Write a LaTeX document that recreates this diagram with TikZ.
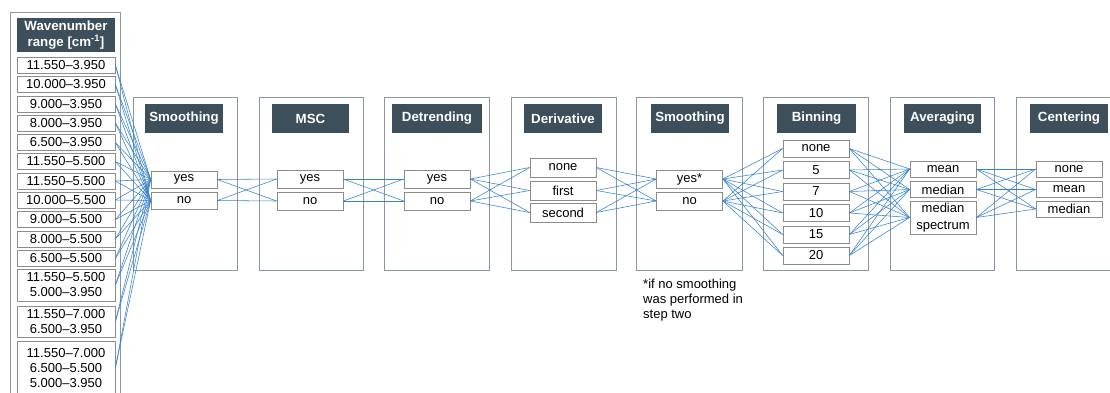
\documentclass[tikz,border=0pt]{standalone}
\usepackage{fontspec}
\setmainfont{Liberation Sans}
\definecolor{hdr}{HTML}{3D4F5B}
\definecolor{pnl}{HTML}{8A99A3}
\definecolor{obd}{HTML}{8C8C8C}
\definecolor{lnk}{RGB}{55,130,205}
\begin{document}
\begin{tikzpicture}[x=1pt,y=-1pt,
  panel/.style={draw=pnl,line width=0.8pt},
  hdrbox/.style={fill=hdr,text=white,font=\fontsize{13.3}{15}\selectfont\bfseries,inner sep=0pt,minimum height=29pt,align=center},
  opt/.style={draw=obd,fill=white,line width=0.7pt,font=\fontsize{13}{15}\selectfont,inner sep=0pt,minimum width=66pt,align=center},
  rng/.style={draw=obd,fill=white,line width=0.7pt,font=\fontsize{13}{15}\selectfont,inner sep=0pt,minimum width=98pt,align=center},
  conn/.style={draw=lnk,line width=0.55pt}]
\clip (0,0) rectangle (1110,392);
\useasboundingbox (0,0) rectangle (1110,392);
\fill[white] (0,0) rectangle (1110,392);
% left column
\draw[panel] (10,12) rectangle (120,400);
\node[hdrbox,minimum width=98pt,minimum height=34pt] (wh) at (66,35) {Wavenumber\\[1pt]range [cm\textsuperscript{-1}]};
\node[rng,minimum height=16pt] (r1) at (66,65) {11.550–3.950};
\node[rng,minimum height=16pt] (r2) at (66,84.5) {10.000–3.950};
\node[rng,minimum height=16pt] (r3) at (66,104) {9.000–3.950};
\node[rng,minimum height=16pt] (r4) at (66,123) {8.000–3.950};
\node[rng,minimum height=16pt] (r5) at (66,142.5) {6.500–3.950};
\node[rng,minimum height=16pt] (r6) at (66,161.5) {11.550–5.500};
\node[rng,minimum height=16pt] (r7) at (66,181) {11.550–5.500};
\node[rng,minimum height=16pt] (r8) at (66,200) {10.000–5.500};
\node[rng,minimum height=16pt] (r9) at (66,219.5) {9.000–5.500};
\node[rng,minimum height=16pt] (r10) at (66,239) {8.000–5.500};
\node[rng,minimum height=16pt] (r11) at (66,258.5) {6.500–5.500};
\node[rng,minimum height=32pt] (r12) at (66,285) {11.550–5.500\\5.000–3.950};
\node[rng,minimum height=31pt] (r13) at (66,321.5) {11.550–7.000\\6.500–3.950};
\node[rng,minimum height=54pt] (r14) at (66,368) {11.550–7.000\\6.500–5.500\\5.000–3.950};
% panels
\draw[panel] (133,97) rectangle (237,270);
\draw[panel] (259,97) rectangle (363,270);
\draw[panel] (384,97) rectangle (489,270);
\draw[panel] (511,97) rectangle (616,270);
\draw[panel] (636,97) rectangle (742,270);
\draw[panel] (763,97) rectangle (868,270);
\draw[panel] (890,97) rectangle (994,270);
\draw[panel] (1016,97) rectangle (1130,270);
% headers
\node[hdrbox,minimum width=78pt] (h1) at (184,118.5) {Smoothing};
\node[hdrbox,minimum width=77pt] (h2) at (310.5,118.5) {MSC};
\node[hdrbox,minimum width=90pt] (h3) at (437,118.5) {Detrending};
\node[hdrbox,minimum width=78pt] (h4) at (563,118.5) {Derivative};
\node[hdrbox,minimum width=78pt] (h5) at (690,118.5) {Smoothing};
\node[hdrbox,minimum width=79pt] (h6) at (816.5,118.5) {Binning};
\node[hdrbox,minimum width=77pt] (h7) at (942.5,118.5) {Averaging};
\node[hdrbox,minimum width=78pt] (h8) at (1069,118.5) {Centering};
% options
\node[opt,minimum height=17pt] (s1y) at (184,179.5) {yes};
\node[opt,minimum height=17pt] (s1n) at (184,200.5) {no};
\node[opt,minimum height=18pt] (my) at (310,179) {yes};
\node[opt,minimum height=18pt] (mn) at (310,201) {no};
\node[opt,minimum height=18pt] (dy) at (437,179) {yes};
\node[opt,minimum height=18pt] (dn) at (437,201) {no};
\node[opt,minimum height=19pt] (v1) at (563,167.5) {none};
\node[opt,minimum height=19pt] (v2) at (563,190.5) {first};
\node[opt,minimum height=19pt] (v3) at (563,212.5) {second};
\node[opt,minimum height=18pt] (s2y) at (689.5,179) {yes*};
\node[opt,minimum height=18pt] (s2n) at (689.5,201) {no};
\node[opt,minimum height=17pt] (b1) at (816,148.5) {none};
\node[opt,minimum height=17pt] (b2) at (816,170) {5};
\node[opt,minimum height=17pt] (b3) at (816,191.5) {7};
\node[opt,minimum height=17pt] (b4) at (816,213) {10};
\node[opt,minimum height=17pt] (b5) at (816,234.5) {15};
\node[opt,minimum height=17pt] (b6) at (816,255.5) {20};
\node[opt,minimum height=16pt] (a1) at (943,169) {mean};
\node[opt,minimum height=16pt] (a2) at (943,189.5) {median};
\node[opt,minimum height=33pt] (a3) at (943,217.5) {median\\[2pt]spectrum};
\node[opt,minimum height=16pt] (c1) at (1069,169) {none};
\node[opt,minimum height=16pt] (c2) at (1069,189.5) {mean};
\node[opt,minimum height=16pt] (c3) at (1069,209) {median};
% footnote
\node[anchor=north west,inner sep=0pt,align=left,font=\fontsize{13}{15}\selectfont] (fn) at (643,279) {*if no smoothing\\was performed in\\step two};
% connectors
\foreach \a in {r1,r2,r3,r4,r5,r6,r7,r8,r9,r10,r11,r12,r13,r14}
  \foreach \b in {s1y,s1n} \draw[conn] (\a.east) -- (\b.west);
\foreach \a in {s1y,s1n} \foreach \b in {my,mn} \draw[conn] (\a.east) -- (\b.west);
\foreach \a in {my,mn} \foreach \b in {dy,dn} \draw[conn] (\a.east) -- (\b.west);
\foreach \a in {dy,dn} \foreach \b in {v1,v2,v3} \draw[conn] (\a.east) -- (\b.west);
\foreach \a in {v1,v2,v3} \foreach \b in {s2y,s2n} \draw[conn] (\a.east) -- (\b.west);
\foreach \a in {s2y,s2n} \foreach \b in {b1,b2,b3,b4,b5,b6} \draw[conn] (\a.east) -- (\b.west);
\foreach \a in {b1,b2,b3,b4,b5,b6} \foreach \b in {a1,a2,a3} \draw[conn] (\a.east) -- (\b.west);
\foreach \a in {a1,a2,a3} \foreach \b in {c1,c2,c3} \draw[conn] (\a.east) -- (\b.west);
\end{tikzpicture}
\end{document}
